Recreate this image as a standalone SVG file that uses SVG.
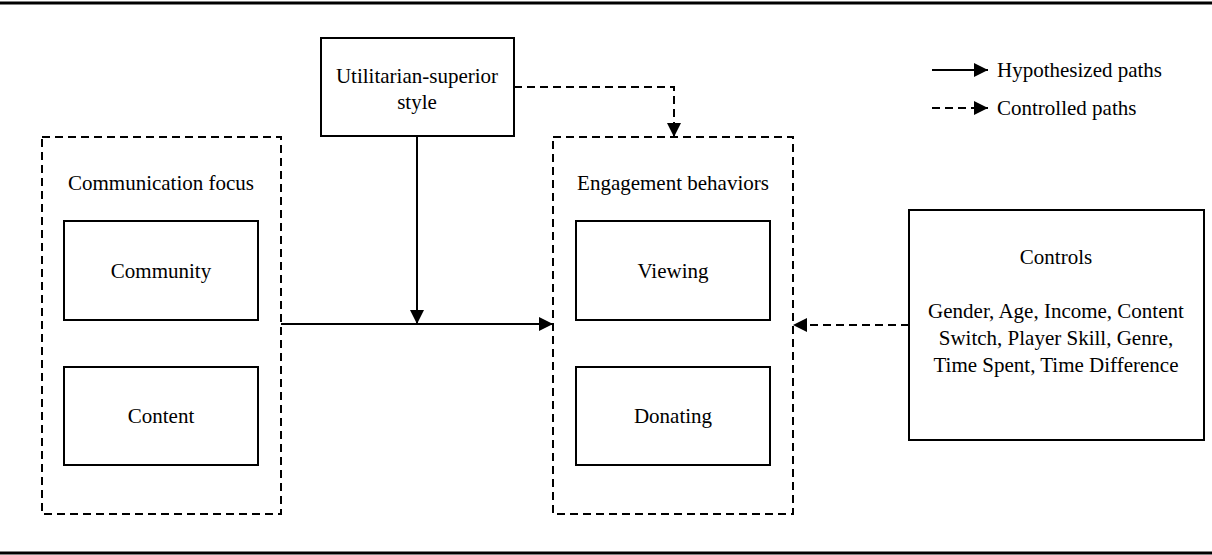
<svg xmlns="http://www.w3.org/2000/svg" width="1212" height="555" viewBox="0 0 1212 555" font-family="'Liberation Serif', 'Times New Roman', 'DejaVu Serif', serif">
<style>
text{font-family:'Liberation Serif','Times New Roman','DejaVu Serif',serif;font-size:21px;fill:#000;text-anchor:middle;dominant-baseline:central}
.box{fill:#fff;stroke:#000;stroke-width:2}
.dbox{fill:none;stroke:#000;stroke-width:2;stroke-dasharray:8,5}
.solid{fill:none;stroke:#000;stroke-width:2}
.dash{fill:none;stroke:#000;stroke-width:2;stroke-dasharray:8,5}
</style>
<defs>
<marker id="ahL" viewBox="0 0 10 10" refX="10" refY="5" markerWidth="14" markerHeight="14" markerUnits="userSpaceOnUse" orient="auto"><path d="M0,0 L10,5 L0,10 z" fill="#000"/></marker>
</defs>
<line x1="0" y1="3" x2="1212" y2="3" stroke="#000" stroke-width="3"/>
<line x1="0" y1="553" x2="1212" y2="553" stroke="#000" stroke-width="3"/>

<g id="comm-focus">
<rect class="dbox" x="42" y="137" width="239" height="377"/>
<text x="161" y="183">Communication focus</text>
</g>
<g id="community">
<rect class="box" x="64" y="221" width="194" height="99"/>
<text x="161" y="271">Community</text>
</g>
<g id="content">
<rect class="box" x="64" y="367" width="194" height="98"/>
<text x="161" y="416">Content</text>
</g>
<g id="utilitarian">
<rect class="box" x="321" y="38" width="193" height="98"/>
<text x="417" y="76">Utilitarian-superior</text>
<text x="417" y="102">style</text>
</g>
<g id="engagement">
<rect class="dbox" x="553" y="137" width="240" height="377"/>
<text x="673" y="183">Engagement behaviors</text>
</g>
<g id="viewing">
<rect class="box" x="576" y="221" width="194" height="99"/>
<text x="673" y="271">Viewing</text>
</g>
<g id="donating">
<rect class="box" x="576" y="367" width="194" height="98"/>
<text x="673" y="416">Donating</text>
</g>
<g id="controls">
<rect class="box" x="909" y="210" width="295" height="230"/>
<text x="1056" y="257">Controls</text>
<text x="1056" y="311">Gender, Age, Income, Content</text>
<text x="1056" y="338">Switch, Player Skill, Genre,</text>
<text x="1056" y="365">Time Spent, Time Difference</text>
</g>
<g id="legend">
<line class="solid" x1="932" y1="70" x2="988" y2="70" marker-end="url(#ahL)"/>
<text x="997" y="70" style="text-anchor:start">Hypothesized paths</text>
<line class="dash" x1="932" y1="108" x2="988" y2="108" stroke-dasharray="7,5" marker-end="url(#ahL)"/>
<text x="997" y="108" style="text-anchor:start">Controlled paths</text>
</g>
<g id="connectors">
<line class="solid" x1="281" y1="324" x2="553" y2="324" marker-end="url(#ahL)"/>
<line class="solid" x1="417" y1="136" x2="417" y2="324" marker-end="url(#ahL)"/>
<polyline class="dash" points="514,87 674,87 674,137" marker-end="url(#ahL)"/>
<line class="dash" x1="909" y1="325" x2="793" y2="325" marker-end="url(#ahL)"/>
</g>
</svg>
